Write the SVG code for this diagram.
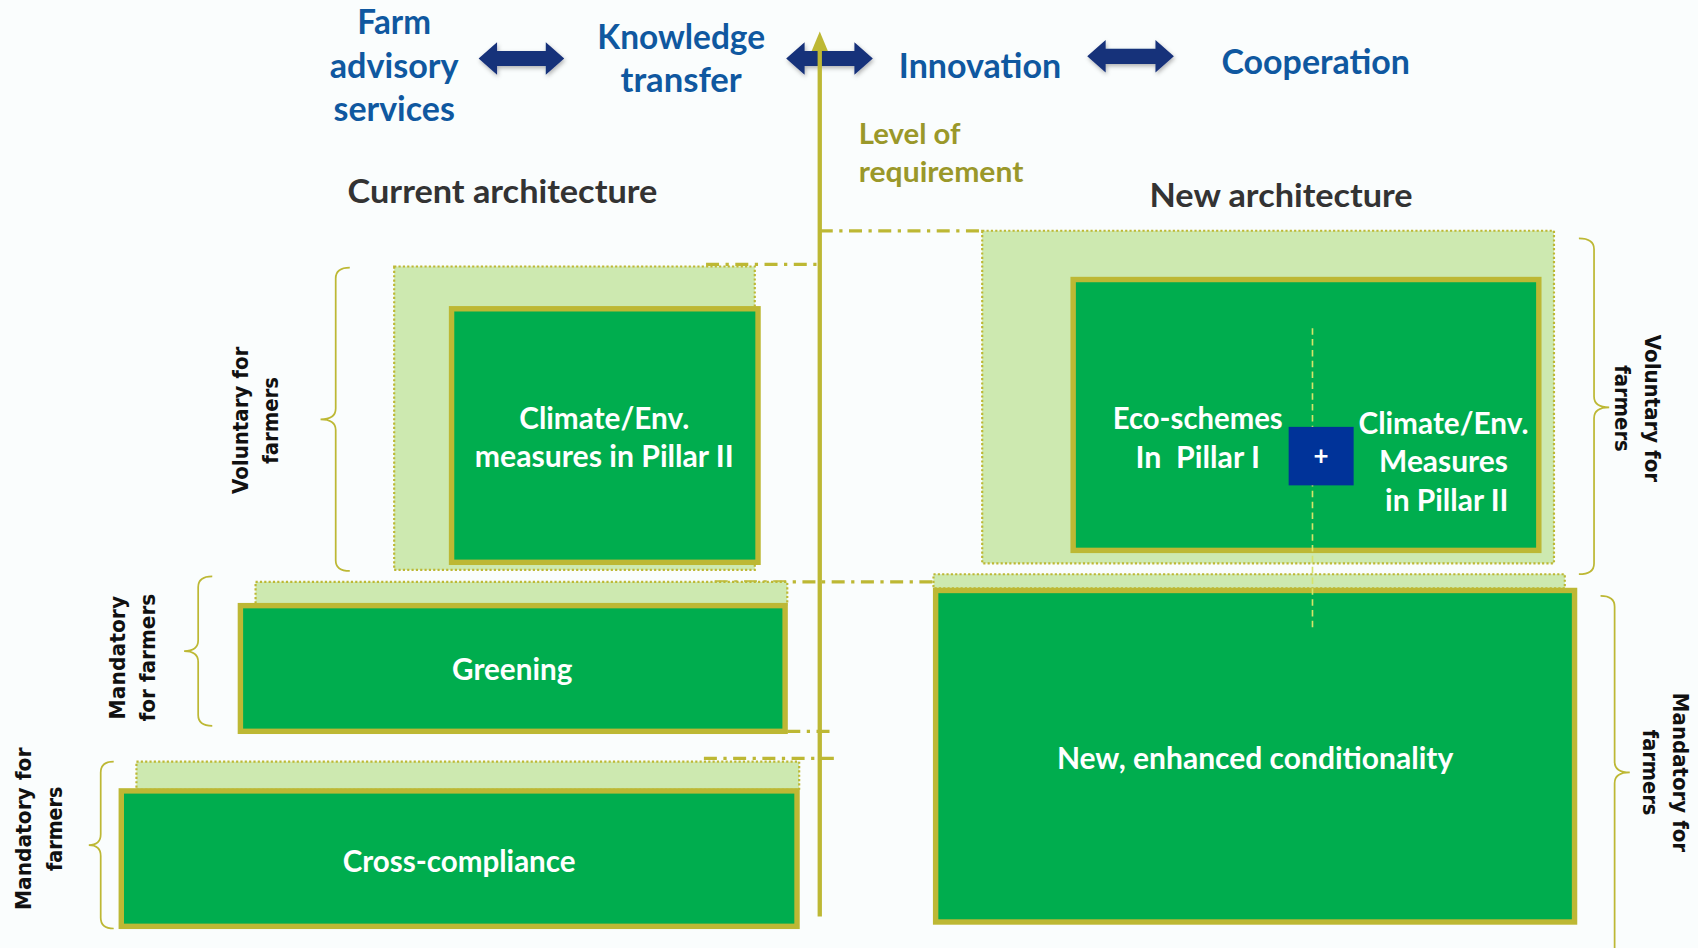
<svg xmlns="http://www.w3.org/2000/svg" width="1698" height="948" viewBox="0 0 1698 948">
<defs>
<style>
.blue{font-family:Lato,"Open Sans","Liberation Sans",sans-serif;font-weight:bold;font-size:31px;fill:#0f58a0;text-anchor:middle}
.lvl{font-family:Lato,"Open Sans","Liberation Sans",sans-serif;font-weight:bold;font-size:26px;fill:#9a982a}
.arch{font-family:Lato,"Open Sans","Liberation Sans",sans-serif;font-weight:bold;font-size:30px;fill:#333333;text-anchor:middle}
.wt{font-family:Lato,"Open Sans","Liberation Sans",sans-serif;font-weight:bold;font-size:28px;fill:#ffffff;text-anchor:middle}
.side{font-family:"DejaVu Sans",Verdana,sans-serif;font-weight:bold;font-size:19px;fill:#111111;text-anchor:middle}
.lg{fill:#cde9b0;stroke:#bdb834;stroke-width:2;stroke-dasharray:2 2}
.dg{fill:#00ad4e;stroke:#bdb834;stroke-width:5}
.dd{fill:none;stroke:#bdb834;stroke-width:3;stroke-dasharray:12 6 3 6}
.brace{fill:none;stroke:#bdb834;stroke-width:1.6}
.dbl{fill:#17307a}
</style>
<filter id="sh" x="-20%" y="-40%" width="140%" height="180%">
<feDropShadow dx="1" dy="2" stdDeviation="2" flood-color="#000" flood-opacity="0.3"/>
</filter>
</defs>
<rect x="0" y="0" width="1698" height="948" fill="#fafdfd"/>
<g transform="scale(1.08291 1.08343)">
<g id="connectors">
<path class="dbl" filter="url(#sh)" d="M442,54 L459,39 L459,47 L504,47 L504,39 L521,54 L504,69 L504,61 L459,61 L459,69 Z"/>
<path class="dbl" filter="url(#sh)" d="M726,54 L743,39 L743,47 L789,47 L789,39 L806,54 L789,69 L789,61 L743,61 L743,69 Z"/>
<path class="dbl" filter="url(#sh)" d="M1004,52 L1021,37 L1021,45 L1067,45 L1067,37 L1084,52 L1067,67 L1067,59 L1021,59 L1021,67 Z"/>
<line x1="757" y1="44" x2="757" y2="846" stroke="#bdb834" stroke-width="4"/>
<polygon points="757,29 749.5,47 764.5,47" fill="#bdb834"/>
<line class="dd" x1="652" y1="244" x2="760" y2="244"/>
<line class="dd" x1="757" y1="213" x2="907" y2="213"/>
<line class="dd" x1="660" y1="537" x2="905" y2="537"/>
<line class="dd" x1="700" y1="675" x2="772" y2="675"/>
<line class="dd" x1="650" y1="700" x2="776" y2="700"/>
<path class="brace" d="M323,247 Q310,247 310,257 L310,377 Q310,387 296,387 Q310,387 310,397 L310,517 Q310,527 323,527"/>
<path class="brace" d="M196,532 Q183,532 183,542 L183,591 Q183,601 170,601 Q183,601 183,611 L183,660 Q183,670 196,670"/>
<path class="brace" d="M105,703 Q93,703 93,713 L93,770 Q93,780 82,780 Q93,780 93,790 L93,847 Q93,857 105,857"/>
<path class="brace" d="M1458,220 Q1472,220 1472,230 L1472,366 Q1472,376 1486,376 Q1472,376 1472,386 L1472,520 Q1472,530 1458,530"/>
<path class="brace" d="M1478,550 Q1491,550 1491,560 L1491,703 Q1491,713 1505,713 Q1491,713 1491,723 L1491,880"/>
</g>
<g id="farm-advisory">
<text class="blue" x="364" y="31" textLength="68" lengthAdjust="spacingAndGlyphs">Farm</text>
<text class="blue" x="364" y="72" textLength="119" lengthAdjust="spacingAndGlyphs">advisory</text>
<text class="blue" x="364" y="112" textLength="112" lengthAdjust="spacingAndGlyphs">services</text>
</g>
<g id="knowledge-transfer">
<text class="blue" x="629" y="45" textLength="155" lengthAdjust="spacingAndGlyphs">Knowledge</text>
<text class="blue" x="629" y="85" textLength="112" lengthAdjust="spacingAndGlyphs">transfer</text>
</g>
<g id="innovation"><text class="blue" x="905" y="72" textLength="150" lengthAdjust="spacingAndGlyphs">Innovation</text></g>
<g id="cooperation"><text class="blue" x="1215" y="68" textLength="174" lengthAdjust="spacingAndGlyphs">Cooperation</text></g>
<g id="level">
<text class="lvl" x="793" y="133" textLength="94" lengthAdjust="spacingAndGlyphs">Level of</text>
<text class="lvl" x="793" y="168" textLength="152" lengthAdjust="spacingAndGlyphs">requirement</text>
</g>
<g id="current-title"><text class="arch" x="464" y="187" textLength="286" lengthAdjust="spacingAndGlyphs">Current architecture</text></g>
<g id="new-title"><text class="arch" x="1183" y="191" textLength="243" lengthAdjust="spacingAndGlyphs">New architecture</text></g>
<g id="current-climate">
<rect class="lg" x="364" y="246" width="333" height="280"/>
<rect class="dg" x="417" y="285" width="283" height="234"/>
<text class="wt" x="558" y="396" textLength="157" lengthAdjust="spacingAndGlyphs">Climate/Env.</text>
<text class="wt" x="558" y="431" textLength="239" lengthAdjust="spacingAndGlyphs">measures in Pillar II</text>
</g>
<g id="greening">
<rect class="lg" x="236" y="537" width="491" height="21"/>
<rect class="dg" x="222" y="559" width="503" height="116"/>
<text class="wt" x="473" y="628" textLength="111" lengthAdjust="spacingAndGlyphs">Greening</text>
</g>
<g id="cross-compliance">
<rect class="lg" x="126" y="703" width="612" height="26"/>
<rect class="dg" x="112" y="730" width="624" height="125"/>
<text class="wt" x="424" y="805" textLength="215" lengthAdjust="spacingAndGlyphs">Cross-compliance</text>
</g>
<g id="new-voluntary">
<rect class="lg" x="907" y="213" width="528" height="307"/>
<rect class="dg" x="991" y="258" width="430" height="250"/>
<text class="wt" x="1106" y="396" textLength="157" lengthAdjust="spacingAndGlyphs">Eco-schemes</text>
<text class="wt" x="1106" y="432" textLength="115" lengthAdjust="spacingAndGlyphs" xml:space="preserve">In  Pillar I</text>
<text class="wt" x="1333" y="401" textLength="157" lengthAdjust="spacingAndGlyphs">Climate/Env.</text>
<text class="wt" x="1333" y="436" textLength="119" lengthAdjust="spacingAndGlyphs">Measures</text>
<text class="wt" x="1336" y="472" textLength="114" lengthAdjust="spacingAndGlyphs">in Pillar II</text>
</g>
<g id="new-conditionality">
<rect class="lg" x="862" y="530" width="583" height="13"/>
<rect class="dg" x="864" y="545" width="590" height="306"/>
<text class="wt" x="1159" y="710" textLength="366" lengthAdjust="spacingAndGlyphs">New, enhanced conditionality</text>
</g>
<line x1="1212" y1="303" x2="1212" y2="583" stroke="#d6e46a" stroke-width="1.5" stroke-dasharray="6 4"/>
<g id="plus">
<rect x="1190" y="394" width="60" height="54" fill="#003399"/>
<text x="1220" y="429" font-family="Lato,'Liberation Sans',sans-serif" font-weight="bold" font-size="24" fill="#ffffff" text-anchor="middle">+</text>
</g>
<g id="label-voluntary-left" transform="translate(236,388) rotate(-90)">
<text class="side" x="0" y="-7" textLength="136" lengthAdjust="spacingAndGlyphs">Voluntary for</text>
<text class="side" x="0" y="21" textLength="80" lengthAdjust="spacingAndGlyphs">farmers</text>
</g>
<g id="label-mandatory-greening" transform="translate(122,607) rotate(-90)">
<text class="side" x="0" y="-7" textLength="114" lengthAdjust="spacingAndGlyphs">Mandatory</text>
<text class="side" x="0" y="21" textLength="118" lengthAdjust="spacingAndGlyphs">for farmers</text>
</g>
<g id="label-mandatory-cc" transform="translate(36,765) rotate(-90)">
<text class="side" x="0" y="-7" textLength="150" lengthAdjust="spacingAndGlyphs">Mandatory for</text>
<text class="side" x="0" y="21" textLength="78" lengthAdjust="spacingAndGlyphs">farmers</text>
</g>
<g id="label-voluntary-right" transform="translate(1512,377) rotate(90)">
<text class="side" x="0" y="-7" textLength="136" lengthAdjust="spacingAndGlyphs">Voluntary for</text>
<text class="side" x="0" y="21" textLength="80" lengthAdjust="spacingAndGlyphs">farmers</text>
</g>
<g id="label-mandatory-right" transform="translate(1538,713) rotate(90)">
<text class="side" x="0" y="-7" textLength="147" lengthAdjust="spacingAndGlyphs">Mandatory for</text>
<text class="side" x="0" y="21" textLength="79" lengthAdjust="spacingAndGlyphs">farmers</text>
</g>
</g>
</svg>
